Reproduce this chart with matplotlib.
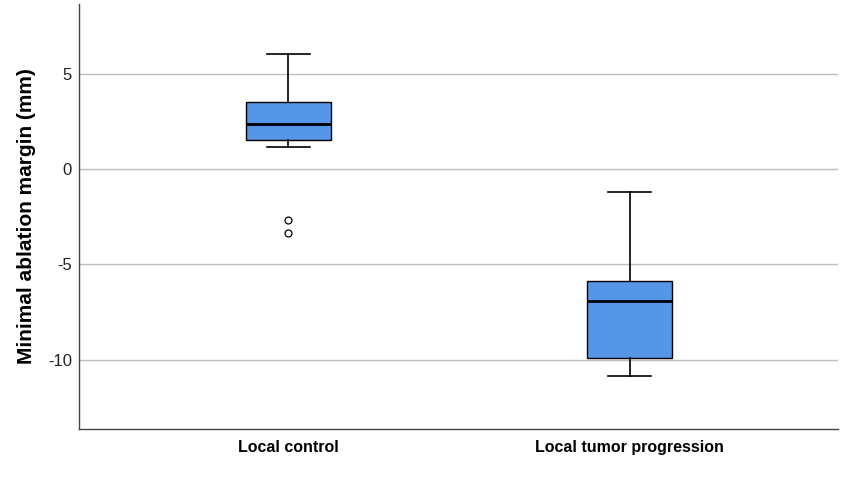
import matplotlib
matplotlib.use("Agg")
import matplotlib.pyplot as plt

plt.rcParams['font.family'] = ['Liberation Sans', 'DejaVu Sans']

categories = ["Local control", "Local tumor progression"]
whisker_low = [1.15, -10.85]
q1 = [1.54, -9.91]
median = [2.34, -6.92]
q3 = [3.49, -5.86]
whisker_high = [6.03, -1.19]
outliers = [[-2.66, -3.35], []]
yticks = [-10, -5, 0, 5]

stats = []
for i, c in enumerate(categories):
    stats.append(dict(label=c, whislo=whisker_low[i], q1=q1[i], med=median[i],
                      q3=q3[i], whishi=whisker_high[i], fliers=outliers[i]))

fig = plt.figure(figsize=(8.43, 4.79), dpi=100)
ax = fig.add_axes([79/843, 50/479, 759/843, 425/479])

ax.bxp(stats, positions=[1, 2], widths=0.249, patch_artist=True,
       boxprops=dict(facecolor='#5596E6', edgecolor='black', linewidth=1.0),
       medianprops=dict(color='black', linewidth=2.0),
       whiskerprops=dict(color='black', linewidth=1.2),
       capprops=dict(color='black', linewidth=1.2),
       capwidths=0.126,
       flierprops=dict(marker='o', markerfacecolor='white', markeredgecolor='black',
                       markersize=5, markeredgewidth=0.9),
       zorder=3)

ax.set_xlim(0.388, 2.61)
ax.set_ylim(-13.64, 8.65)
ax.set_yticks(yticks)
ax.set_yticklabels([str(v) for v in yticks], fontsize=12, color='#222222')
ax.yaxis.grid(True, color='#BEBEBE', linewidth=1.0, zorder=0)
ax.set_axisbelow(True)
ax.tick_params(axis='y', length=0, pad=5)
ax.tick_params(axis='x', length=0, pad=8)
ax.set_xticks([1, 2])
ax.set_xticklabels(categories, fontsize=11.5, fontweight='bold')
ax.set_ylabel("Minimal ablation margin (mm)", fontsize=15, fontweight='bold')
ax.yaxis.set_label_coords(-43/759, 0.5)
ax.yaxis.label.set_va('bottom')
for s in ['top', 'right']:
    ax.spines[s].set_visible(False)
for s in ['left', 'bottom']:
    ax.spines[s].set_color('#444444')
    ax.spines[s].set_linewidth(1.0)

fig.savefig("out.png", dpi=100)
